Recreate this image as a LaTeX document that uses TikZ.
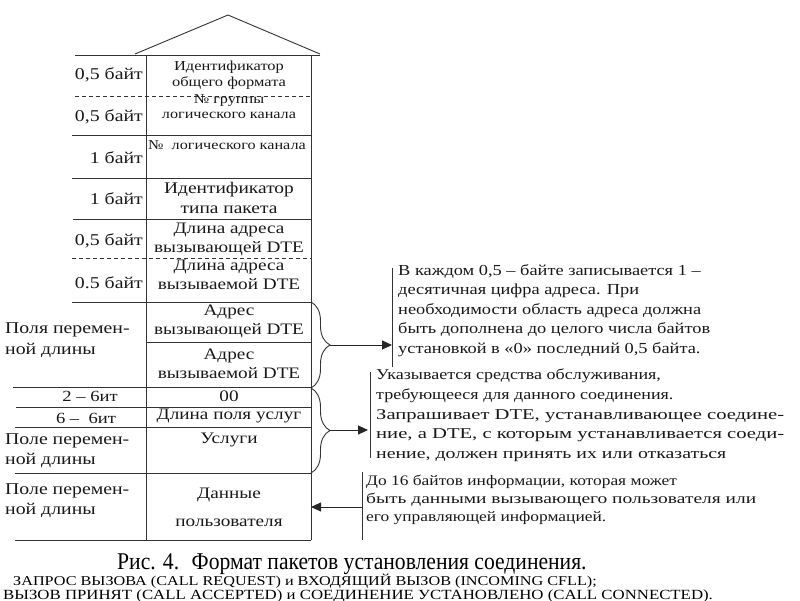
\documentclass[tikz,border=0pt]{standalone}
\usepackage{fontspec}
\setmainfont{Liberation Serif}[FakeStretch=1.2]
\newfontfamily\capfont{Liberation Serif}[FakeStretch=0.9]
\usetikzlibrary{decorations.pathreplacing,arrows.meta}
\newcommand{\fsz}[2]{\fontsize{#1}{#2}\selectfont}
\newcommand{\wideline}[2]{\resizebox{#1}{\height}{#2}}
\tikzset{
  rule/.style={draw=black!80, line width=0.9pt},
  dashrule/.style={draw=black!80, line width=0.9pt, dash pattern=on 4pt off 3pt},
  cell/.style={inner sep=0pt, align=center, text=black!90},
  lab/.style={inner sep=0pt, align=left, text=black!90},
  note/.style={inner sep=0pt, align=left, anchor=north west, text=black!90, font=\fsz{15.3}{19.6}},
  bracestyle/.style={draw=black!80, line width=0.9pt, decorate, decoration={brace, amplitude=19pt, aspect=0.5}},
  arr/.style={draw=black!85, line width=0.9pt, -{Triangle[length=10pt,width=9pt]}}
}
\begin{document}
\begin{tikzpicture}[x=1pt,y=-1pt]
\useasboundingbox[fill=white] (0,0) rectangle (800,600);
% roof
\coordinate (rl) at (135,54);
\coordinate (ra) at (228,15);
\coordinate (rr) at (320,54);
\draw[rule] (rl) -- (ra) -- (rr);
% frame
\draw[rule] (75,55) -- (320,55);
\draw[rule] (146,55) -- (146,540);
\draw[rule] (311,55) -- (311,540);
\draw[dashrule] (75,96) -- (311,96);
\draw[rule] (72,135) -- (311,135);
\draw[rule] (72,178) -- (311,178);
\draw[rule] (73,219) -- (311,219);
\draw[dashrule] (72,258) -- (311,258);
\draw[rule] (72,302) -- (311,302);
\draw[rule] (146,342) -- (311,342);
\draw[rule] (13,387) -- (311,387);
\draw[rule] (16,407) -- (311,407);
\draw[rule] (15,427) -- (311,427);
\draw[rule] (15,473) -- (311,473);
\draw[rule] (15,540) -- (311,540);

% cell texts
\node[cell, font=\fsz{13.7}{16}] (c1) at (229,75) {Идентификатор\\общего формата};
\node[cell, font=\fsz{13.5}{15}] (c2) at (229,107) {№ группы\\логического канала};
\node[cell, font=\fsz{13.5}{15}, anchor=north] (c3) at (227,140) {№ \ логического канала};
\node[cell, font=\fsz{16.2}{20}] (c4) at (229,198) {Идентификатор\\типа пакета};
\node[cell, font=\fsz{16}{19}] (c5) at (229,239) {Длина адреса\\вызывающей DTE};
\node[cell, font=\fsz{16}{19}] (c6) at (229,275) {Длина адреса\\вызываемой DTE};
\node[cell, font=\fsz{16}{19}] (c7) at (229,321) {Адрес\\вызывающей DTE};
\node[cell, font=\fsz{16}{19}] (c8) at (229,364) {Адрес\\вызываемой DTE};
\node[cell, font=\fsz{16}{19}] (c9) at (229,396) {00};
\node[cell, font=\fsz{16}{19}] (c10) at (229,416) {Длина поля услуг};
\node[cell, font=\fsz{16}{19}] (c11) at (229,440) {Услуги};
\node[cell, font=\fsz{16}{28}] (c12) at (229,507) {Данные\\пользователя};

% left labels
\node[lab, font=\fsz{16.5}{19}, anchor=east] (l1) at (143,75) {0,5 байт};
\node[lab, font=\fsz{16.5}{19}, anchor=east] (l2) at (143,117) {0,5 байт};
\node[lab, font=\fsz{16.5}{19}, anchor=east] (l3) at (143,158) {1 байт};
\node[lab, font=\fsz{16.5}{19}, anchor=east] (l4) at (143,199) {1 байт};
\node[lab, font=\fsz{16.5}{19}, anchor=east] (l5) at (143,241) {0,5 байт};
\node[lab, font=\fsz{16.5}{19}, anchor=east] (l6) at (143,283) {0.5 байт};
\node[lab, font=\fsz{16.5}{20.5}, anchor=west] (l7) at (5,340) {Поля перемен-\\ной длины};
\node[lab, font=\fsz{15.5}{19}] (l8) at (90,396) {2 – 6ит};
\node[lab, font=\fsz{15.5}{19}] (l9) at (86,418) {6 – \ 6ит};
\node[lab, font=\fsz{16.5}{20}, anchor=west] (l10) at (5,451) {Поле перемен-\\ной длины};
\node[lab, font=\fsz{16.5}{20}, anchor=west] (l11) at (5,501) {Поле перемен-\\ной длины};

% braces and arrows
\draw[bracestyle] (311,302) -- (311,388);
\coordinate (b1) at (330,345);
\coordinate (v1t) at (392,268);
\coordinate (v1b) at (392,367);
\coordinate (a1) at (392,345);
\draw[rule] (v1t) -- (v1b);
\draw[arr] (b1) -- (a1);

\draw[bracestyle] (311,388) -- (311,473);
\coordinate (b2) at (330,430);
\coordinate (v2t) at (370,372);
\coordinate (v2b) at (370,458);
\coordinate (a2) at (368,430);
\draw[rule] (v2t) -- (v2b);
\draw[arr] (b2) -- (a2);

\coordinate (v3t) at (362,472);
\coordinate (v3b) at (362,540);
\coordinate (a3s) at (362,507);
\coordinate (a3e) at (311,507);
\draw[rule] (v3t) -- (v3b);
\draw[arr] (a3s) -- (a3e);

% notes
\node[note] (n1) at (398,264) {В каждом 0,5 – байте записывается 1 –\\десятичная цифра адреса. При\\необходимости область адреса должна\\быть дополнена до целого числа байтов\\установкой в «0» последний 0,5 байта.};
\node[note, font=\fsz{15}{19.6}] (n2) at (376,369) {Указывается средства обслуживания,\\требующееся для данного соединения.\\\wideline{408pt}{Запрашивает DTE, устанавливающее соедине-}\\\wideline{408pt}{ние, а DTE, с которым устанавливается соеди-}\\\wideline{350pt}{нение, должен принять их или отказаться}};
\node[note, font=\fsz{14.5}{18}] (n3) at (366,475) {До 16 байтов информации, которая может\\\wideline{390pt}{быть данными вызывающего пользователя или}\\его управляющей информацией.};

% caption
\node[inner sep=0pt, anchor=base west, font=\capfont\fsz{24}{26}] (cap) at (117,569) {Рис. 4. \ Формат пакетов установления соединения.};
\node[inner sep=0pt, anchor=west, font=\fsz{13.5}{16}] (cap2) at (13,581) {ЗАПРОС ВЫЗОВА (CALL REQUEST) и ВХОДЯЩИЙ ВЫЗОВ (INCOMING CFLL);};
\node[inner sep=0pt, anchor=west, font=\fsz{14}{16}] (cap3) at (3,596) {ВЫЗОВ ПРИНЯТ (CALL ACCEPTED) и СОЕДИНЕНИЕ УСТАНОВЛЕНО (CALL CONNECTED).};
\end{tikzpicture}
\end{document}
